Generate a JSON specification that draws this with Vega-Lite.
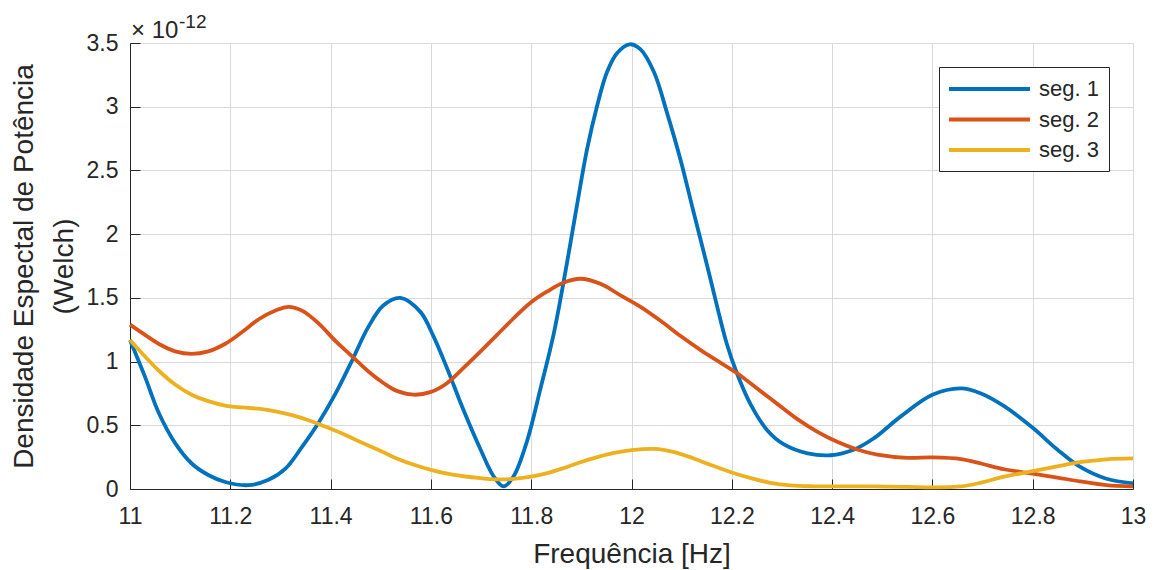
{
  "$schema": "https://vega.github.io/schema/vega-lite/v6.json",
  "autosize": "none",
  "width": 1003,
  "height": 446,
  "padding": {"left": 130, "top": 43, "right": 22, "bottom": 81},
  "background": "white",
  "config": {
    "font": "Liberation Sans",
    "view": {"stroke": "#d9d9d9"},
    "axis": {
      "labelFont": "Liberation Sans",
      "titleFont": "Liberation Sans",
      "labelFontSize": 23,
      "titleFontSize": 28,
      "titleFontWeight": "normal",
      "labelColor": "#262626",
      "titleColor": "#262626",
      "domainColor": "#262626",
      "tickColor": "#262626",
      "gridColor": "#d9d9d9",
      "gridWidth": 1,
      "tickSize": -10,
      "tickWidth": 1,
      "domainWidth": 1
    },
    "legend": {
      "labelFont": "Liberation Sans"
    }
  },
  "data": {"values": [
    {"f": 11.0, "psd": 1.17, "serie": "seg. 1"},
    {"f": 11.03, "psd": 0.88, "serie": "seg. 1"},
    {"f": 11.057, "psd": 0.6, "serie": "seg. 1"},
    {"f": 11.09, "psd": 0.36, "serie": "seg. 1"},
    {"f": 11.123, "psd": 0.2, "serie": "seg. 1"},
    {"f": 11.156, "psd": 0.11, "serie": "seg. 1"},
    {"f": 11.19, "psd": 0.055, "serie": "seg. 1"},
    {"f": 11.236, "psd": 0.03, "serie": "seg. 1"},
    {"f": 11.275, "psd": 0.07, "serie": "seg. 1"},
    {"f": 11.31, "psd": 0.16, "serie": "seg. 1"},
    {"f": 11.343, "psd": 0.33, "serie": "seg. 1"},
    {"f": 11.376, "psd": 0.52, "serie": "seg. 1"},
    {"f": 11.41, "psd": 0.75, "serie": "seg. 1"},
    {"f": 11.443, "psd": 1.01, "serie": "seg. 1"},
    {"f": 11.475, "psd": 1.27, "serie": "seg. 1"},
    {"f": 11.505, "psd": 1.44, "serie": "seg. 1"},
    {"f": 11.539, "psd": 1.5, "serie": "seg. 1"},
    {"f": 11.579, "psd": 1.39, "serie": "seg. 1"},
    {"f": 11.605, "psd": 1.2, "serie": "seg. 1"},
    {"f": 11.632, "psd": 0.95, "serie": "seg. 1"},
    {"f": 11.665, "psd": 0.62, "serie": "seg. 1"},
    {"f": 11.699, "psd": 0.31, "serie": "seg. 1"},
    {"f": 11.725, "psd": 0.1, "serie": "seg. 1"},
    {"f": 11.745, "psd": 0.02, "serie": "seg. 1"},
    {"f": 11.765, "psd": 0.1, "serie": "seg. 1"},
    {"f": 11.792, "psd": 0.38, "serie": "seg. 1"},
    {"f": 11.818, "psd": 0.78, "serie": "seg. 1"},
    {"f": 11.845, "psd": 1.22, "serie": "seg. 1"},
    {"f": 11.868, "psd": 1.7, "serie": "seg. 1"},
    {"f": 11.891, "psd": 2.22, "serie": "seg. 1"},
    {"f": 11.911, "psd": 2.66, "serie": "seg. 1"},
    {"f": 11.931, "psd": 3.0, "serie": "seg. 1"},
    {"f": 11.951, "psd": 3.27, "serie": "seg. 1"},
    {"f": 11.971, "psd": 3.42, "serie": "seg. 1"},
    {"f": 11.996, "psd": 3.49, "serie": "seg. 1"},
    {"f": 12.018, "psd": 3.45, "serie": "seg. 1"},
    {"f": 12.045, "psd": 3.27, "serie": "seg. 1"},
    {"f": 12.071, "psd": 2.95, "serie": "seg. 1"},
    {"f": 12.098, "psd": 2.58, "serie": "seg. 1"},
    {"f": 12.124, "psd": 2.17, "serie": "seg. 1"},
    {"f": 12.151, "psd": 1.75, "serie": "seg. 1"},
    {"f": 12.174, "psd": 1.38, "serie": "seg. 1"},
    {"f": 12.19, "psd": 1.14, "serie": "seg. 1"},
    {"f": 12.21, "psd": 0.91, "serie": "seg. 1"},
    {"f": 12.238, "psd": 0.66, "serie": "seg. 1"},
    {"f": 12.271, "psd": 0.46, "serie": "seg. 1"},
    {"f": 12.304, "psd": 0.35, "serie": "seg. 1"},
    {"f": 12.351, "psd": 0.28, "serie": "seg. 1"},
    {"f": 12.397, "psd": 0.265, "serie": "seg. 1"},
    {"f": 12.444, "psd": 0.31, "serie": "seg. 1"},
    {"f": 12.484, "psd": 0.4, "serie": "seg. 1"},
    {"f": 12.537, "psd": 0.57, "serie": "seg. 1"},
    {"f": 12.6, "psd": 0.74, "serie": "seg. 1"},
    {"f": 12.657, "psd": 0.79, "serie": "seg. 1"},
    {"f": 12.697, "psd": 0.75, "serie": "seg. 1"},
    {"f": 12.743, "psd": 0.65, "serie": "seg. 1"},
    {"f": 12.8, "psd": 0.48, "serie": "seg. 1"},
    {"f": 12.849, "psd": 0.31, "serie": "seg. 1"},
    {"f": 12.894, "psd": 0.175, "serie": "seg. 1"},
    {"f": 12.947, "psd": 0.08, "serie": "seg. 1"},
    {"f": 13.0, "psd": 0.045, "serie": "seg. 1"},

    {"f": 11.0, "psd": 1.29, "serie": "seg. 2"},
    {"f": 11.03, "psd": 1.21, "serie": "seg. 2"},
    {"f": 11.057, "psd": 1.14, "serie": "seg. 2"},
    {"f": 11.09, "psd": 1.08, "serie": "seg. 2"},
    {"f": 11.123, "psd": 1.06, "serie": "seg. 2"},
    {"f": 11.156, "psd": 1.08, "serie": "seg. 2"},
    {"f": 11.19, "psd": 1.14, "serie": "seg. 2"},
    {"f": 11.223, "psd": 1.23, "serie": "seg. 2"},
    {"f": 11.256, "psd": 1.33, "serie": "seg. 2"},
    {"f": 11.29, "psd": 1.4, "serie": "seg. 2"},
    {"f": 11.316, "psd": 1.43, "serie": "seg. 2"},
    {"f": 11.343, "psd": 1.4, "serie": "seg. 2"},
    {"f": 11.376, "psd": 1.3, "serie": "seg. 2"},
    {"f": 11.41, "psd": 1.16, "serie": "seg. 2"},
    {"f": 11.443, "psd": 1.04, "serie": "seg. 2"},
    {"f": 11.476, "psd": 0.92, "serie": "seg. 2"},
    {"f": 11.506, "psd": 0.83, "serie": "seg. 2"},
    {"f": 11.532, "psd": 0.77, "serie": "seg. 2"},
    {"f": 11.566, "psd": 0.74, "serie": "seg. 2"},
    {"f": 11.599, "psd": 0.76, "serie": "seg. 2"},
    {"f": 11.632, "psd": 0.83, "serie": "seg. 2"},
    {"f": 11.665, "psd": 0.95, "serie": "seg. 2"},
    {"f": 11.699, "psd": 1.08, "serie": "seg. 2"},
    {"f": 11.732, "psd": 1.21, "serie": "seg. 2"},
    {"f": 11.765, "psd": 1.34, "serie": "seg. 2"},
    {"f": 11.798, "psd": 1.46, "serie": "seg. 2"},
    {"f": 11.832, "psd": 1.55, "serie": "seg. 2"},
    {"f": 11.865, "psd": 1.62, "serie": "seg. 2"},
    {"f": 11.898, "psd": 1.65, "serie": "seg. 2"},
    {"f": 11.938, "psd": 1.61, "serie": "seg. 2"},
    {"f": 11.978, "psd": 1.52, "serie": "seg. 2"},
    {"f": 12.018, "psd": 1.43, "serie": "seg. 2"},
    {"f": 12.058, "psd": 1.32, "serie": "seg. 2"},
    {"f": 12.098, "psd": 1.2, "serie": "seg. 2"},
    {"f": 12.138, "psd": 1.09, "serie": "seg. 2"},
    {"f": 12.178, "psd": 0.99, "serie": "seg. 2"},
    {"f": 12.21, "psd": 0.91, "serie": "seg. 2"},
    {"f": 12.25, "psd": 0.79, "serie": "seg. 2"},
    {"f": 12.29, "psd": 0.67, "serie": "seg. 2"},
    {"f": 12.33, "psd": 0.55, "serie": "seg. 2"},
    {"f": 12.37, "psd": 0.45, "serie": "seg. 2"},
    {"f": 12.41, "psd": 0.37, "serie": "seg. 2"},
    {"f": 12.45, "psd": 0.31, "serie": "seg. 2"},
    {"f": 12.49, "psd": 0.27, "serie": "seg. 2"},
    {"f": 12.55, "psd": 0.245, "serie": "seg. 2"},
    {"f": 12.6, "psd": 0.248, "serie": "seg. 2"},
    {"f": 12.657, "psd": 0.235, "serie": "seg. 2"},
    {"f": 12.697, "psd": 0.2, "serie": "seg. 2"},
    {"f": 12.743, "psd": 0.155, "serie": "seg. 2"},
    {"f": 12.8, "psd": 0.12, "serie": "seg. 2"},
    {"f": 12.849, "psd": 0.09, "serie": "seg. 2"},
    {"f": 12.894, "psd": 0.06, "serie": "seg. 2"},
    {"f": 12.947, "psd": 0.03, "serie": "seg. 2"},
    {"f": 13.0, "psd": 0.02, "serie": "seg. 2"},

    {"f": 11.0, "psd": 1.17, "serie": "seg. 3"},
    {"f": 11.03, "psd": 1.04, "serie": "seg. 3"},
    {"f": 11.057, "psd": 0.93, "serie": "seg. 3"},
    {"f": 11.09, "psd": 0.82, "serie": "seg. 3"},
    {"f": 11.123, "psd": 0.74, "serie": "seg. 3"},
    {"f": 11.156, "psd": 0.69, "serie": "seg. 3"},
    {"f": 11.19, "psd": 0.655, "serie": "seg. 3"},
    {"f": 11.223, "psd": 0.64, "serie": "seg. 3"},
    {"f": 11.256, "psd": 0.63, "serie": "seg. 3"},
    {"f": 11.29, "psd": 0.61, "serie": "seg. 3"},
    {"f": 11.323, "psd": 0.58, "serie": "seg. 3"},
    {"f": 11.356, "psd": 0.54, "serie": "seg. 3"},
    {"f": 11.389, "psd": 0.49, "serie": "seg. 3"},
    {"f": 11.423, "psd": 0.435, "serie": "seg. 3"},
    {"f": 11.456, "psd": 0.375, "serie": "seg. 3"},
    {"f": 11.499, "psd": 0.3, "serie": "seg. 3"},
    {"f": 11.532, "psd": 0.24, "serie": "seg. 3"},
    {"f": 11.566, "psd": 0.19, "serie": "seg. 3"},
    {"f": 11.6, "psd": 0.15, "serie": "seg. 3"},
    {"f": 11.632, "psd": 0.12, "serie": "seg. 3"},
    {"f": 11.665, "psd": 0.1, "serie": "seg. 3"},
    {"f": 11.699, "psd": 0.085, "serie": "seg. 3"},
    {"f": 11.732, "psd": 0.076, "serie": "seg. 3"},
    {"f": 11.765, "psd": 0.08, "serie": "seg. 3"},
    {"f": 11.8, "psd": 0.097, "serie": "seg. 3"},
    {"f": 11.832, "psd": 0.125, "serie": "seg. 3"},
    {"f": 11.865, "psd": 0.165, "serie": "seg. 3"},
    {"f": 11.898, "psd": 0.21, "serie": "seg. 3"},
    {"f": 11.932, "psd": 0.25, "serie": "seg. 3"},
    {"f": 11.965, "psd": 0.283, "serie": "seg. 3"},
    {"f": 12.0, "psd": 0.305, "serie": "seg. 3"},
    {"f": 12.045, "psd": 0.315, "serie": "seg. 3"},
    {"f": 12.085, "psd": 0.29, "serie": "seg. 3"},
    {"f": 12.124, "psd": 0.24, "serie": "seg. 3"},
    {"f": 12.164, "psd": 0.18, "serie": "seg. 3"},
    {"f": 12.2, "psd": 0.13, "serie": "seg. 3"},
    {"f": 12.238, "psd": 0.085, "serie": "seg. 3"},
    {"f": 12.277, "psd": 0.048, "serie": "seg. 3"},
    {"f": 12.317, "psd": 0.028, "serie": "seg. 3"},
    {"f": 12.364, "psd": 0.021, "serie": "seg. 3"},
    {"f": 12.417, "psd": 0.02, "serie": "seg. 3"},
    {"f": 12.483, "psd": 0.02, "serie": "seg. 3"},
    {"f": 12.55, "psd": 0.017, "serie": "seg. 3"},
    {"f": 12.6, "psd": 0.013, "serie": "seg. 3"},
    {"f": 12.657, "psd": 0.02, "serie": "seg. 3"},
    {"f": 12.697, "psd": 0.05, "serie": "seg. 3"},
    {"f": 12.743, "psd": 0.097, "serie": "seg. 3"},
    {"f": 12.8, "psd": 0.14, "serie": "seg. 3"},
    {"f": 12.849, "psd": 0.178, "serie": "seg. 3"},
    {"f": 12.894, "psd": 0.21, "serie": "seg. 3"},
    {"f": 12.947, "psd": 0.233, "serie": "seg. 3"},
    {"f": 13.0, "psd": 0.24, "serie": "seg. 3"}
  ]},
  "layer": [
    {
      "mark": {"type": "line", "strokeWidth": 3.8, "interpolate": "catmull-rom", "clip": false},
      "encoding": {
        "x": {
          "field": "f", "type": "quantitative",
          "scale": {"domain": [11, 13], "nice": false, "zero": false},
          "axis": {
            "title": "Frequência [Hz]",
            "values": [11, 11.2, 11.4, 11.6, 11.8, 12, 12.2, 12.4, 12.6, 12.8, 13],
            "format": "~g",
            "labelPadding": 26,
            "titlePadding": 12,
            "labelFlush": false
          }
        },
        "y": {
          "field": "psd", "type": "quantitative",
          "scale": {"domain": [0, 3.5], "nice": false},
          "axis": {
            "title": ["Densidade Espectal de Potência", "(Welch)"],
            "values": [0, 0.5, 1, 1.5, 2, 2.5, 3, 3.5],
            "format": "~g",
            "labelPadding": 22,
            "titlePadding": 8,
            "titleLineHeight": 40,
            "labelFlush": false
          }
        },
        "color": {
          "field": "serie", "type": "nominal",
          "scale": {"domain": ["seg. 1", "seg. 2", "seg. 3"], "range": ["#0072BD", "#D95319", "#EDB120"]},
          "legend": {
            "title": null,
            "orient": "top-right",
            "offset": 24,
            "padding": 10,
            "strokeColor": "#262626",
            "fillColor": "white",
            "symbolType": "M-1.2,0H6.9",
            "symbolSize": 400,
            "symbolStrokeWidth": 4,
            "labelFontSize": 22,
            "labelColor": "#262626",
            "labelOffset": 66,
            "rowPadding": 7.5
          }
        }
      }
    },
    {
      "data": {"values": [{"label": "× 10"}]},
      "mark": {"type": "text", "align": "left", "baseline": "alphabetic", "fontSize": 24, "color": "#262626", "dx": 1, "dy": -5, "font": "Liberation Sans"},
      "encoding": {
        "x": {"datum": 11},
        "y": {"datum": 3.5},
        "text": {"field": "label"}
      }
    },
    {
      "data": {"values": [{"label": "-12"}]},
      "mark": {"type": "text", "align": "left", "baseline": "alphabetic", "fontSize": 19, "color": "#262626", "dx": 49, "dy": -15, "font": "Liberation Sans"},
      "encoding": {
        "x": {"datum": 11},
        "y": {"datum": 3.5},
        "text": {"field": "label"}
      }
    }
  ]
}
